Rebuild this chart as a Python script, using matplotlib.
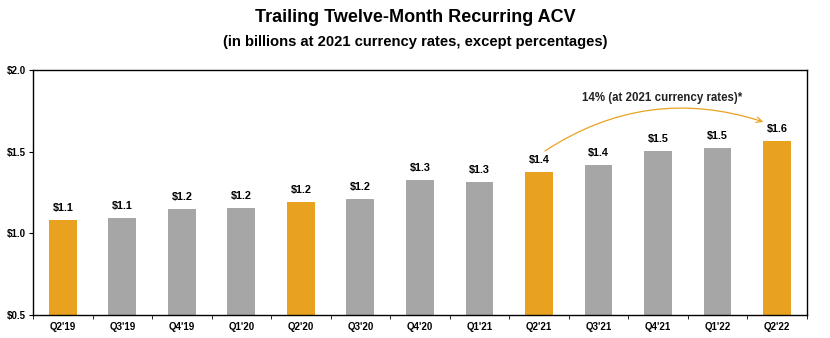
import matplotlib
matplotlib.use("Agg")
import matplotlib.pyplot as plt
import numpy as np

quarters = ["Q2'19", "Q3'19", "Q4'19", "Q1'20", "Q2'20", "Q3'20", "Q4'20",
            "Q1'21", "Q2'21", "Q3'21", "Q4'21", "Q1'22", "Q2'22"]
acv = [1.08, 1.095, 1.15, 1.157, 1.194, 1.212, 1.329,
       1.316, 1.377, 1.42, 1.506, 1.522, 1.565]
value_labels = ["$1.1", "$1.1", "$1.2", "$1.2", "$1.2", "$1.2", "$1.3",
                "$1.3", "$1.4", "$1.4", "$1.5", "$1.5", "$1.6"]
highlight = ["Q2'19", "Q2'20", "Q2'21", "Q2'22"]
yticks = [0.5, 1.0, 1.5, 2.0]
ytick_labels = ["$0.5", "$1.0", "$1.5", "$2.0"]

ORANGE = "#E9A220"
GRAY = "#A6A6A6"

plt.rcParams["font.family"] = ["Liberation Sans", "DejaVu Sans"]

fig = plt.figure(figsize=(8.3, 3.38), dpi=100)
ax = fig.add_axes([0.040, 0.068, 0.932, 0.725])

x = np.arange(len(quarters))
colors = [ORANGE if q in highlight else GRAY for q in quarters]
bars = ax.bar(x, acv, width=0.47, color=colors, zorder=2)

for b, lab in zip(bars, value_labels):
    ax.annotate(lab, (b.get_x() + b.get_width() / 2, b.get_height()),
                xytext=(0, 5), textcoords="offset points",
                ha="center", va="bottom", fontsize=7.8, fontweight="bold")

ax.set_xlim(-0.5, len(quarters) - 0.5)
ax.set_ylim(0.5, 2.0)
ax.set_yticks(yticks)
ax.set_yticklabels(ytick_labels, fontsize=7, fontweight="bold")

# category labels centred, tick marks between categories
ax.set_xticks(x)
ax.set_xticklabels(quarters, fontsize=7, fontweight="bold")
ax.tick_params(axis="x", length=0, pad=5)
ax.set_xticks(np.arange(-0.5, len(quarters)), minor=True)
ax.tick_params(axis="x", which="minor", length=3, direction="out")
ax.tick_params(axis="y", length=3, direction="out", pad=2)

for s in ax.spines.values():
    s.set_linewidth(1.0)
    s.set_color("black")

# growth arrow Q2'21 -> Q2'22
ax.annotate("", xy=(11.77, 1.682), xytext=(8.1, 1.504),
            arrowprops=dict(arrowstyle="->", color=ORANGE, lw=0.9,
                            connectionstyle="arc3,rad=-0.24",
                            shrinkA=0, shrinkB=0))
ax.text(10.07, 1.83, "14% (at 2021 currency rates)*", ha="center", va="center",
        fontsize=8.3, fontweight="bold", color="#222222")

fig.text(0.5, 0.947, "Trailing Twelve-Month Recurring ACV", ha="center",
         va="center", fontsize=13, fontweight="bold")
fig.text(0.5, 0.876, "(in billions at 2021 currency rates, except percentages)",
         ha="center", va="center", fontsize=10.6, fontweight="bold")

fig.savefig("out.png", dpi=100)
